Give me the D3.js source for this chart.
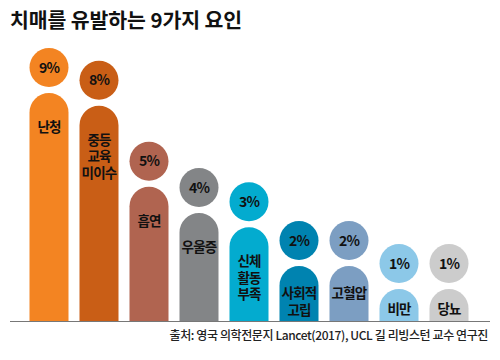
<!DOCTYPE html>
<html><head><meta charset="utf-8">
<script src="https://cdn.jsdelivr.net/npm/d3@7/dist/d3.min.js"></script>
<style>
html,body{margin:0;padding:0;background:#fff;}
svg{display:block;}
text{font-family:"Noto Sans CJK KR","Noto Sans",sans-serif;}
</style></head>
<body>
<script>
const title = "치매를 유발하는 9가지 요인";
const source = "출처: 영국 의학전문지 Lancet(2017), UCL 길 리빙스턴 교수 연구진";
const categories = [["난청"],["중등","교육","미이수"],["흡연"],["우울증"],["신체","활동","부족"],["사회적","고립"],["고혈압"],["비만"],["당뇨"]];
const percentLabels = ["9%","8%","5%","4%","3%","2%","2%","1%","1%"];
// bar heights as drawn in the picture (in percent units, estimated)
const barValues = [9, 8.5, 5.3, 4.26, 3.7, 2.17, 2.17, 1.26, 1.26];
const colors = ["#F38422","#C95E16","#B06450","#838587","#03ABCF","#0083B0","#7C9EC2","#8CC8E8","#CCCCCC"];

const W = 500, H = 360, base = 321;
const svg = d3.select("body").append("svg").attr("width", W).attr("height", H);

svg.append("text").attr("x", 10).attr("y", 28)
  .attr("font-size", 20.5).attr("font-weight", 700).attr("fill", "#111")
  .attr("letter-spacing", -0.1).text(title);

const idx = d3.range(categories.length);
const x = d3.scaleBand().domain(idx).range([24, 474]).paddingInner(0.22).paddingOuter(0.11);
const y = d3.scaleLinear().domain([0, 9]).range([base, 93]);
const bw = x.bandwidth(), r = bw / 2;

const g = svg.append("g");
idx.forEach(i => {
  const x0 = x(i), top = y(barValues[i]);
  const p = d3.path();
  p.moveTo(x0, base);
  p.lineTo(x0, top + r);
  p.arc(x0 + r, top + r, r, Math.PI, 0);
  p.lineTo(x0 + bw, base);
  p.closePath();
  g.append("path").attr("d", p.toString()).attr("fill", colors[i]);
  g.append("circle").attr("cx", x0 + r).attr("cy", top - 6 - r).attr("r", r).attr("fill", colors[i]);
  g.append("text").attr("x", x0 + r).attr("y", top - 6 - r).attr("dy", "0.36em")
    .attr("text-anchor", "middle").attr("font-size", 14).attr("font-weight", 700)
    .attr("letter-spacing", -0.8).attr("fill", "#111").text(percentLabels[i]);
  const h = base - top;
  const off = Math.min(34, Math.max(h / 2, 20));
  categories[i].forEach((line, j) => {
    g.append("text").attr("x", x0 + r).attr("y", top + off + j * 16.5).attr("dy", "0.36em")
      .attr("text-anchor", "middle").attr("font-size", 13.5).attr("font-weight", 700)
      .attr("letter-spacing", -0.8).attr("fill", "#111").text(line);
  });
});

svg.append("line").attr("x1", 10).attr("x2", 490).attr("y1", base + 0.5).attr("y2", base + 0.5)
  .attr("stroke", "#777").attr("stroke-width", 1);

svg.append("text").attr("x", 488).attr("y", 336).attr("dy", "0.36em")
  .attr("text-anchor", "end").attr("font-size", 12).attr("font-weight", 500)
  .attr("letter-spacing", -0.4).attr("fill", "#222").text(source);
</script>
</body></html>
